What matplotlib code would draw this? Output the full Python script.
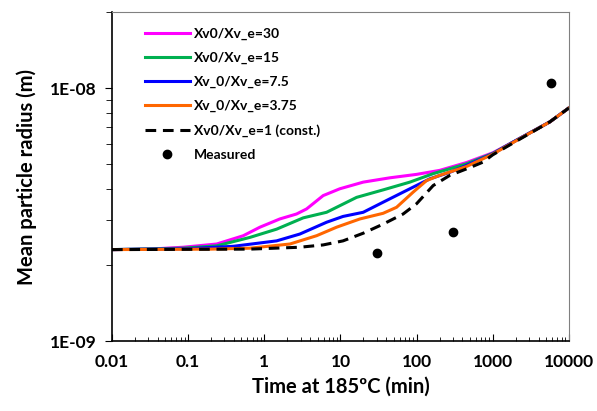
import matplotlib.pyplot as plt
import numpy as np

plt.rcParams['font.family'] = ['Lato', 'DejaVu Sans']
plt.rcParams['font.weight'] = 'bold'

# time (min) and mean radius (m)
t_30 = [0.01, 0.0316, 0.086, 0.237, 0.53, 0.875, 1.6, 2.65, 3.59, 5.93, 9.8, 19.9, 44.5,
        99.7, 201, 452, 1000, 2000, 5600, 10000]
r_30 = [2.30e-9, 2.31e-9, 2.35e-9, 2.42e-9, 2.61e-9, 2.82e-9, 3.04e-9, 3.18e-9, 3.33e-9,
        3.76e-9, 4.00e-9, 4.25e-9, 4.42e-9, 4.56e-9, 4.73e-9, 5.08e-9, 5.55e-9, 6.2e-9,
        7.35e-9, 8.35e-9]

t_15 = [0.01, 0.086, 0.237, 0.647, 1.45, 3.24, 6.57, 16.3, 36.3, 81.5, 165, 452, 1000,
        2000, 5600, 10000]
r_15 = [2.30e-9, 2.33e-9, 2.38e-9, 2.57e-9, 2.77e-9, 3.07e-9, 3.23e-9, 3.70e-9, 3.96e-9,
        4.25e-9, 4.59e-9, 5.02e-9, 5.52e-9, 6.2e-9, 7.35e-9, 8.35e-9]

t_75 = [0.01, 0.1, 0.391, 1.45, 2.93, 6.57, 10.8, 19.9, 36.3, 73.7, 149, 273, 452, 1000,
        2000, 5600, 10000]
r_75 = [2.30e-9, 2.32e-9, 2.37e-9, 2.49e-9, 2.65e-9, 2.95e-9, 3.11e-9, 3.23e-9, 3.54e-9,
        3.94e-9, 4.38e-9, 4.65e-9, 4.95e-9, 5.5e-9, 6.2e-9, 7.35e-9, 8.35e-9]

t_375 = [0.01, 0.2, 0.647, 2.17, 4.86, 8.89, 18.0, 36.3, 54.5, 90, 135, 201, 452, 1000,
         2000, 5600, 10000]
r_375 = [2.30e-9, 2.31e-9, 2.33e-9, 2.42e-9, 2.61e-9, 2.82e-9, 3.04e-9, 3.20e-9, 3.38e-9,
         3.88e-9, 4.31e-9, 4.52e-9, 4.90e-9, 5.48e-9, 6.18e-9, 7.35e-9, 8.35e-9]

t_1 = [0.01, 0.647, 2.93, 5.93, 10.8, 19.9, 36.3, 66.5, 99.7, 165, 273, 499, 746, 1000,
       2000, 5600, 10000]
r_1 = [2.30e-9, 2.31e-9, 2.35e-9, 2.40e-9, 2.49e-9, 2.67e-9, 2.90e-9, 3.18e-9, 3.49e-9,
       4.12e-9, 4.52e-9, 4.85e-9, 5.10e-9, 5.45e-9, 6.15e-9, 7.35e-9, 8.35e-9]

t_meas = [30, 300, 5900]
r_meas = [2.23e-9, 2.71e-9, 1.05e-8]

fig = plt.figure(figsize=(5.97, 4.11), dpi=100)
ax = fig.add_axes([0.1876, 0.170, 0.7654, 0.801])

lw = 2.2
ax.plot(t_30, r_30, color='#ff00ff', lw=lw, label='Xv0/Xv_e=30')
ax.plot(t_15, r_15, color='#00b050', lw=lw, label='Xv0/Xv_e=15')
ax.plot(t_75, r_75, color='#0000ff', lw=lw, label='Xv_0/Xv_e=7.5')
ax.plot(t_375, r_375, color='#ff6600', lw=lw, label='Xv_0/Xv_e=3.75')
ax.plot(t_1, r_1, color='black', lw=lw, ls=(0, (3.5, 2.2)), label='Xv0/Xv_e=1 (const.)')
ax.plot(t_meas, r_meas, 'o', color='black', ms=6, label='Measured')

ax.set_xscale('log')
ax.set_yscale('log')
ax.set_xlim(0.01, 10000)
ax.set_ylim(1e-9, 2e-8)

ax.set_xticks([0.01, 0.1, 1, 10, 100, 1000, 10000])
ax.set_xticklabels(['0.01', '0.1', '1', '10', '100', '1000', '10000'])
ax.set_yticks([1e-9, 1e-8])
ax.set_yticklabels(['1E-09', '1E-08'])

ax.tick_params(axis='x', which='both', direction='in', labelsize=12.5, pad=9)
ax.tick_params(axis='x', which='major', length=5)
ax.tick_params(axis='x', which='minor', length=3)
ax.tick_params(axis='y', which='both', direction='out', labelsize=12.5, pad=6)
ax.tick_params(axis='y', which='major', length=5)
ax.tick_params(axis='y', which='minor', length=4)

for s in ['top', 'right']:
    ax.spines[s].set_color('#808080')
ax.spines['left'].set_linewidth(1.2)
ax.spines['bottom'].set_linewidth(1.2)

ax.set_xlabel('Time at 185ºC (min)', fontsize=14.5, fontweight='bold', labelpad=5)
ax.set_ylabel('Mean particle radius (m)', fontsize=14.5, fontweight='bold', labelpad=9)

ax.legend(loc='upper left', bbox_to_anchor=(0.045, 0.99), frameon=False, fontsize=10,
          handlelength=3.2, handletextpad=0.3, labelspacing=0.86, numpoints=1)

fig.savefig('out.png', dpi=100)
